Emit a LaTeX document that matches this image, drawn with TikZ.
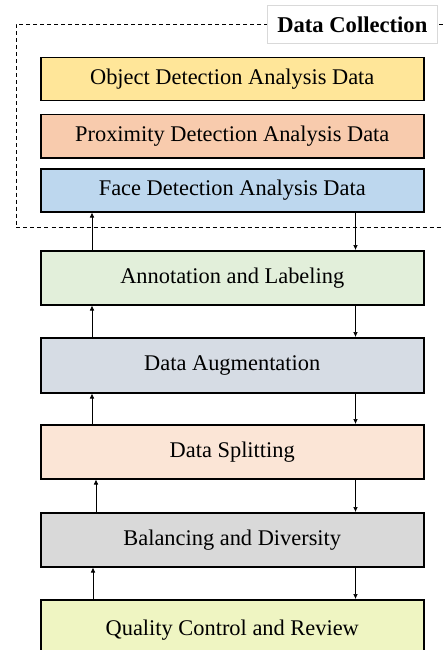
\documentclass[tikz,border=0pt]{standalone}
\usepackage{fontspec}
\setmainfont{Liberation Serif}
\usetikzlibrary{arrows.meta}
\definecolor{objfill}{HTML}{FFE699}
\definecolor{proxfill}{HTML}{F8CBAD}
\definecolor{facefill}{HTML}{BDD7EE}
\definecolor{annfill}{HTML}{E2EFDA}
\definecolor{augfill}{HTML}{D6DCE4}
\definecolor{splitfill}{HTML}{FBE5D6}
\definecolor{balfill}{HTML}{D9D9D9}
\definecolor{qualfill}{HTML}{EFF5C2}
\begin{document}
\begin{tikzpicture}[x=1pt,y=-1pt,
  stage/.style={draw=black, line width=1.5pt, minimum width=383pt,
    inner sep=0pt, anchor=north west, font=\fontsize{22.4}{26}\selectfont},
  flow/.style={-{Latex[length=5pt,width=4.5pt]}, line width=0.6pt},
  group/.style={dashed, dash pattern=on 4pt off 3pt, line width=0.9pt}]
\useasboundingbox (0,0) rectangle (443,650);
\clip (0,0) rectangle (443,650);

% dashed data-collection group
\draw[group] (450,24.5) -- (16,24.5) -- (16,227) -- (450,227);
\node[draw=black!15, fill=white, line width=0.6pt, minimum width=170pt,
  minimum height=38pt, inner sep=0pt, anchor=north west,
  font=\bfseries\fontsize{22.6}{26}\selectfont] (dc) at (267,5) {Data Collection};

% stages
\node[stage, fill=objfill,   minimum height=43pt] (obj)   at (40,57)  {Object Detection Analysis Data};
\node[stage, fill=proxfill,  minimum height=43pt] (prox)  at (40,114) {Proximity Detection Analysis Data};
\node[stage, fill=facefill,  minimum height=43pt] (face)  at (40,168) {Face Detection Analysis Data};
\node[stage, fill=annfill,   minimum height=54pt] (ann)   at (40,250) {Annotation and Labeling};
\node[stage, fill=augfill,   minimum height=55pt] (aug)   at (40,337) {Data Augmentation};
\node[stage, fill=splitfill, minimum height=54pt] (split) at (40,424) {Data Splitting};
\node[stage, fill=balfill,   minimum height=54pt] (bal)   at (40,512) {Balancing and Diversity};
\node[stage, fill=qualfill,  minimum height=60pt] (qual)  at (40,599) {Quality Control and Review};

% upward flow (left side)
\draw[flow] ([xshift=52pt]ann.north west)   -- ([xshift=52pt]face.south west);
\draw[flow] ([xshift=52pt]aug.north west)   -- ([xshift=52pt]ann.south west);
\draw[flow] ([xshift=52pt]split.north west) -- ([xshift=52pt]aug.south west);
\draw[flow] ([xshift=56pt]bal.north west)   -- ([xshift=56pt]split.south west);
\draw[flow] ([xshift=53pt]qual.north west)  -- ([xshift=53pt]bal.south west);

% downward flow (right side)
\draw[flow] ([xshift=-69pt]face.south east)  -- ([xshift=-69pt]ann.north east);
\draw[flow] ([xshift=-69pt]ann.south east)   -- ([xshift=-69pt]aug.north east);
\draw[flow] ([xshift=-69pt]aug.south east)   -- ([xshift=-69pt]split.north east);
\draw[flow] ([xshift=-69pt]split.south east) -- ([xshift=-69pt]bal.north east);
\draw[flow] ([xshift=-69pt]bal.south east)   -- ([xshift=-69pt]qual.north east);
\end{tikzpicture}
\end{document}
